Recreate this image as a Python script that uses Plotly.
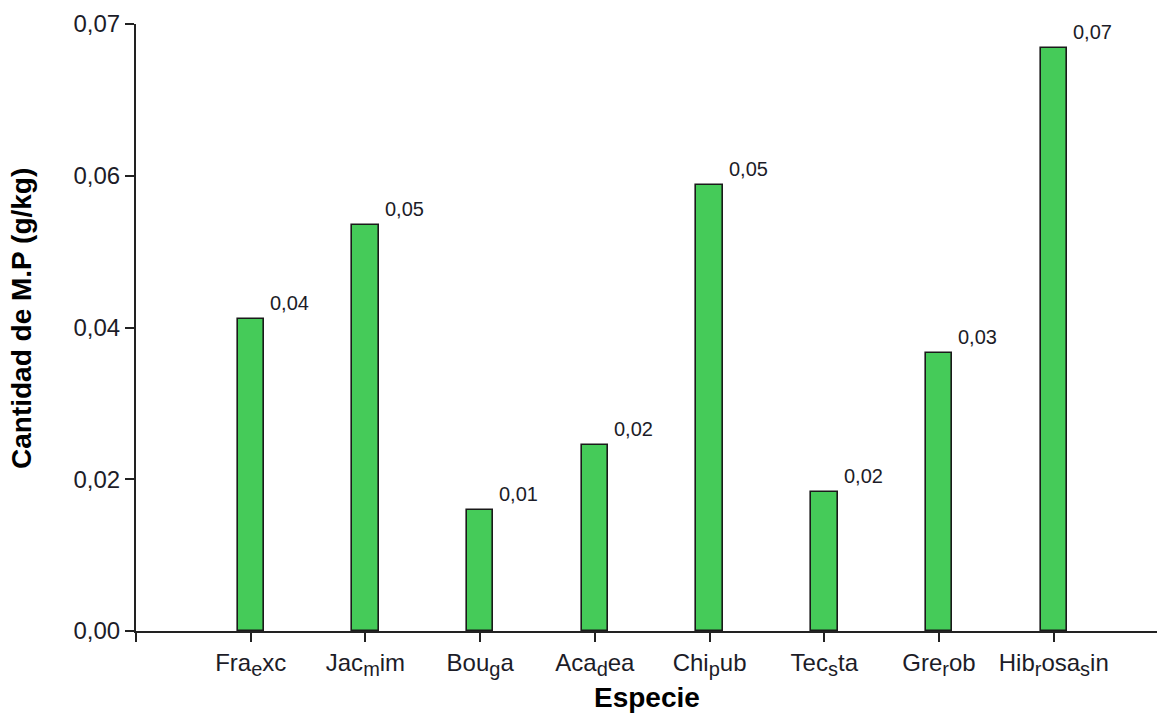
import plotly.graph_objects as go

# ---- data ----
species_parts = [("Fra", "e", "xc"), ("Jac", "m", "im"), ("Bou", "g", "a"), ("Aca", "d", "ea"),
                 ("Chi", "p", "ub"), ("Tec", "s", "ta"), ("Gre", "r", "ob"), ("Hib", "r", "osa", "s", "in")]
values = [0.0380, 0.0495, 0.0147, 0.0227, 0.0544, 0.0169, 0.0339, 0.0711]
value_labels = ["0,04", "0,05", "0,01", "0,02", "0,05", "0,02", "0,03", "0,07"]
y_tickvals = [0.0, 0.0185, 0.037, 0.0555, 0.074]
y_ticktext = ["0,00", "0,02", "0,04", "0,06", "0,07"]
x_title = "Especie"
y_title = "Cantidad de M.P (g/kg)"

FONT = "Liberation Sans, Arial, sans-serif"
INK = "#1c1c28"
BAR_W = 0.23


def label(parts):
    out = ""
    for i, p in enumerate(parts):
        if i % 2 == 1:
            out += '<sub><span style="font-size:20px">%s</span></sub>' % p
        else:
            out += p
    return out


species = [label(p) for p in species_parts]
pos = list(range(len(species)))

fig = go.Figure()
fig.add_trace(go.Bar(
    x=pos, y=values, width=BAR_W,
    marker=dict(color="#45CB59", line=dict(color="#1a1a1a", width=1.6)),
    hoverinfo="skip", showlegend=False,
))

for p, v, t in zip(pos, values, value_labels):
    fig.add_annotation(x=p + BAR_W / 2, y=v, xref="x", yref="y", text=t,
                       showarrow=False, xanchor="left", yanchor="middle",
                       xshift=4, yshift=16,
                       font=dict(family=FONT, size=20, color=INK))

# axis titles
fig.add_annotation(xref="paper", yref="paper", x=0.5, y=0, text="<b>%s</b>" % x_title,
                   showarrow=False, xanchor="center", yanchor="middle", yshift=-66,
                   font=dict(family=FONT, size=28, color="#000"))
fig.add_annotation(xref="paper", yref="paper", x=0, y=0.514, text="<b>%s</b>" % y_title,
                   showarrow=False, xanchor="center", yanchor="middle", xshift=-115,
                   textangle=-90, font=dict(family=FONT, size=28, color="#000"))

fig.update_layout(
    width=1163, height=713,
    margin=dict(l=136, r=6, t=24, b=82),
    paper_bgcolor="white", plot_bgcolor="white",
    font=dict(family=FONT, color=INK),
    bargap=0,
)
fig.update_xaxes(
    range=[-1, 7.9], tickmode="array",
    tickvals=[-1] + pos, ticktext=[""] + species,
    showline=True, linecolor="#222", linewidth=2,
    ticks="outside", ticklen=9, tickwidth=2, tickcolor="#222",
    showgrid=False, zeroline=False, automargin=False,
    tickfont=dict(family=FONT, size=24, color=INK),
)
fig.update_yaxes(
    range=[0, 0.074], tickmode="array",
    tickvals=y_tickvals, ticktext=y_ticktext,
    showline=True, linecolor="#222", linewidth=2,
    ticks="outside", ticklen=9, tickwidth=2, tickcolor="#222",
    showgrid=False, zeroline=False, automargin=False,
    tickfont=dict(family=FONT, size=24, color=INK),
)

fig.write_html("out.html", config={"displayModeBar": False},
               post_script="document.body.style.margin='0';document.body.style.overflow='hidden';")
